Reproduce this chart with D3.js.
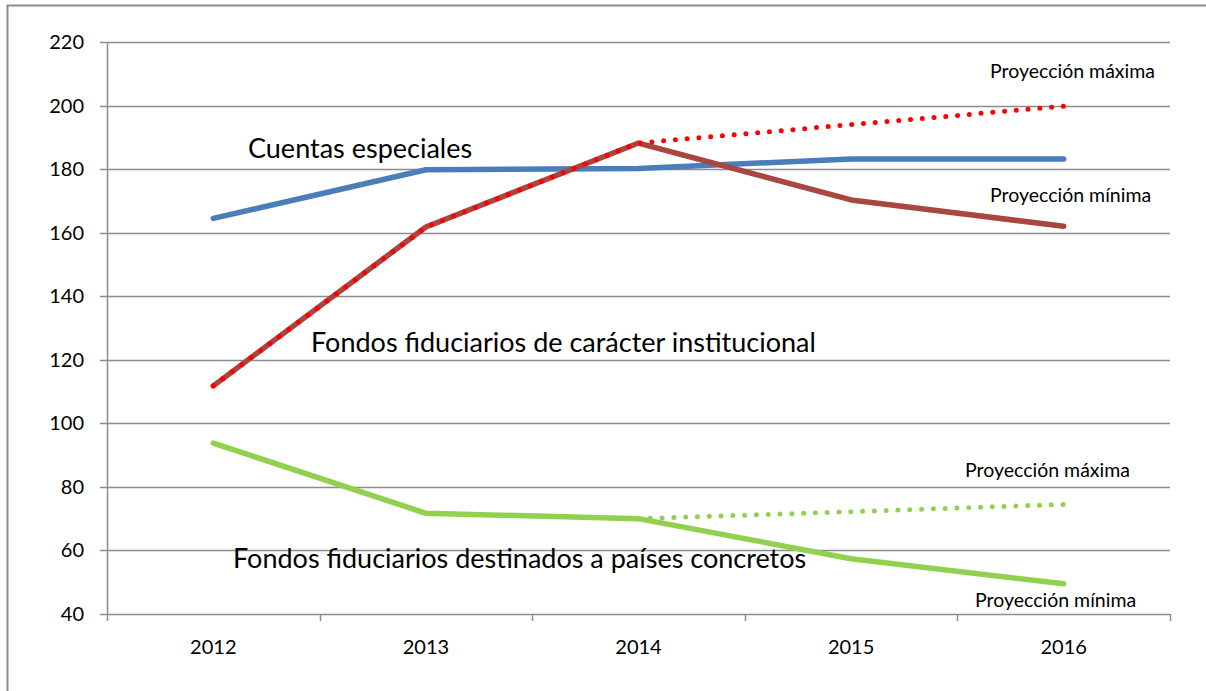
<!DOCTYPE html>
<html>
<head>
<meta charset="utf-8">
<script src="https://cdn.jsdelivr.net/npm/d3@7"></script>
<style>
  body { margin: 0; background: #fff; }
  svg { display: block; font-family: Lato, "Noto Sans", sans-serif; }
</style>
</head>
<body>
<svg id="chart" width="1206" height="691"></svg>
<script>
// Data
const years = ["2012", "2013", "2014", "2015", "2016"];
const cuentasEspeciales = [164.5, 179.8, 180.2, 183.2, 183.2];
const institucionalMin = [111.8, 161.8, 188.2, 170.3, 162.0];
const institucionalMax = [111.8, 161.8, 188.2, 194.0, 199.8];
const paisesMin = [93.8, 71.7, 70.0, 57.4, 49.5];
const paisesMax = [null, null, 70.0, 72.2, 74.5];
const yTicks = [40, 60, 80, 100, 120, 140, 160, 180, 200, 220];

const svg = d3.select("#chart");
const margin = { left: 107, right: 36, top: 42, bottom: 77 };
const width = 1206, height = 691;

// outer frame (only top and left edges visible)
svg.append("path")
    .attr("d", "M7.5,691 V5.5 H1206")
    .attr("fill", "none")
    .attr("stroke", "#8c8c8c")
    .attr("stroke-width", 2);

const x = d3.scaleBand()
    .domain(years)
    .range([margin.left, width - margin.right]);

const y = d3.scaleLinear()
    .domain([40, 220])
    .range([height - margin.bottom, margin.top]);

// Gridlines
svg.selectAll(".grid")
    .data(yTicks)
    .enter()
    .append("line")
    .attr("class", "grid")
    .attr("x1", margin.left - 7)
    .attr("x2", width - margin.right)
    .attr("y1", d => Math.round(y(d)) + 0.5)
    .attr("y2", d => Math.round(y(d)) + 0.5)
    .attr("stroke", "#8c8c8c")
    .attr("stroke-width", 1.5);

// y axis line
svg.append("line")
    .attr("x1", margin.left + 0.5)
    .attr("x2", margin.left + 0.5)
    .attr("y1", margin.top)
    .attr("y2", y(40) + 7)
    .attr("stroke", "#8c8c8c")
    .attr("stroke-width", 1.5);

// x tick marks at band edges
const edges = years.map(d => x(d)).concat([x(years[years.length - 1]) + x.bandwidth()]);
svg.selectAll(".xtick")
    .data(edges.slice(1))
    .enter()
    .append("line")
    .attr("class", "xtick")
    .attr("x1", d => Math.round(d) + 0.5)
    .attr("x2", d => Math.round(d) + 0.5)
    .attr("y1", y(40))
    .attr("y2", y(40) + 7)
    .attr("stroke", "#8c8c8c")
    .attr("stroke-width", 1.5);

// y labels
svg.selectAll(".ylab")
    .data(yTicks)
    .enter()
    .append("text")
    .attr("class", "ylab")
    .attr("x", 84)
    .attr("y", d => y(d) + 7)
    .attr("text-anchor", "end")
    .style("font-size", "20px")
    .attr("fill", "#000")
    .text(d => d);

// x labels
svg.selectAll(".xlab")
    .data(years)
    .enter()
    .append("text")
    .attr("class", "xlab")
    .attr("x", d => x(d) + x.bandwidth() / 2)
    .attr("y", 654)
    .attr("text-anchor", "middle")
    .style("font-size", "20px")
    .attr("fill", "#000")
    .text(d => d);

const line = d3.line()
    .defined(d => d.v !== null)
    .x(d => x(d.year) + x.bandwidth() / 2)
    .y(d => y(d.v));

const toPts = arr => years.map((yr, i) => ({ year: yr, v: arr[i] }));

// solid series
const solid = [
    { values: cuentasEspeciales, colour: "#4A7EBB" },
    { values: paisesMin, colour: "#92D050" },
    { values: institucionalMin, colour: "#A84642" }
];
solid.forEach(s => {
    svg.append("path")
        .datum(toPts(s.values))
        .attr("d", line)
        .attr("fill", "none")
        .attr("stroke", s.colour)
        .attr("stroke-width", 5.5)
        .attr("stroke-linecap", "round")
        .attr("stroke-linejoin", "round");
});

// dotted projections
const dotted = [
    { values: paisesMax, colour: "#92D050" },
    { values: institucionalMax, colour: "#FF0000" }
];
dotted.forEach(s => {
    svg.append("path")
        .datum(toPts(s.values))
        .attr("d", line)
        .attr("fill", "none")
        .attr("stroke", s.colour)
        .attr("stroke-width", 5)
        .attr("stroke-linecap", "round")
        .attr("stroke-dasharray", "0 11.8");
});

// annotations
const labels = [
    { text: "Cuentas especiales", x: 248, y: 158, size: 27 },
    { text: "Fondos fiduciarios de carácter institucional", x: 311, y: 352, size: 27 },
    { text: "Fondos fiduciarios destinados a países concretos", x: 233, y: 568, size: 27 },
    { text: "Proyección máxima", x: 990, y: 78, size: 19.5 },
    { text: "Proyección mínima", x: 990, y: 202, size: 19.5 },
    { text: "Proyección máxima", x: 965, y: 477, size: 19.5 },
    { text: "Proyección mínima", x: 975, y: 607, size: 19.5 }
];
svg.selectAll(".note")
    .data(labels)
    .enter()
    .append("text")
    .attr("class", "note")
    .attr("x", d => d.x)
    .attr("y", d => d.y)
    .style("font-size", d => `${d.size}px`)
    .attr("fill", "#000")
    .text(d => d.text);
</script>
</body>
</html>
